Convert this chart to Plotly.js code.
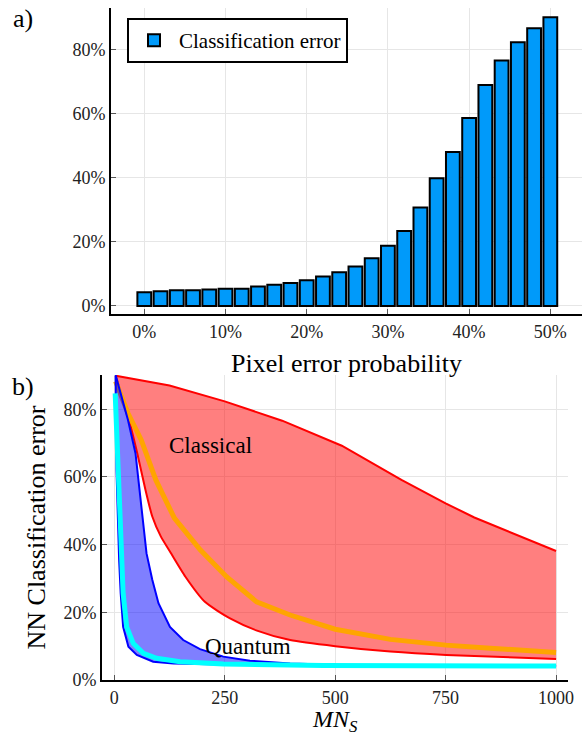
<!DOCTYPE html>
<html>
<head>
<meta charset="utf-8">
<script src="https://cdn.plot.ly/plotly-3.0.1.min.js"></script>
<style>html,body{margin:0;padding:0;background:#fff;}#plot{width:582px;height:734px;}</style>
</head>
<body>
<div id="plot"></div>
<script>
// ---- Panel a) data ----
const pixelErrorPct = [0, 2, 4, 6, 8, 10, 12, 14, 16, 18, 20, 22, 24, 26, 28, 30, 32, 34, 36, 38, 40, 42, 44, 46, 48, 50];
const classErrorPct = [4.3, 4.6, 4.9, 4.9, 5.1, 5.4, 5.4, 6.1, 6.6, 7.2, 8.0, 9.2, 10.5, 12.3, 14.9, 18.8, 23.4, 30.7, 39.8, 48.0, 58.6, 68.9, 76.5, 82.2, 86.6, 90.0];
const xTicksA = [0, 10, 20, 30, 40, 50];
const yTicksA = [0, 20, 40, 60, 80];

// ---- Panel b) data ----
const classicalMaxX = [3, 125, 250, 380, 515, 650, 750, 815, 1000];
const classicalMaxY = [89.9, 87.0, 82.3, 76.6, 69.2, 59.1, 52.2, 48.0, 38.1];
const classicalMinX = [3, 27, 52, 70, 86, 105, 128, 161, 205, 262, 323, 398, 500, 625, 751, 1000];
const classicalMinY = [89.9, 79.8, 67.0, 56.5, 48.3, 42.5, 37.5, 30.5, 23.1, 18.2, 14.6, 11.8, 10.0, 8.4, 7.4, 6.2];
const classicalMeanX = [3, 31, 61, 94, 136, 195, 254, 322, 398, 500, 625, 751, 851, 1000];
const classicalMeanY = [88.2, 78.8, 70.9, 59.1, 47.8, 38.4, 30.5, 23.1, 19.2, 15.0, 12.0, 10.3, 9.4, 8.1];
const quantumMaxX = [3, 31, 48, 61, 73, 86, 100, 126, 156, 194, 247, 307, 398, 500, 700, 1000];
const quantumMaxY = [90.1, 76.8, 67.0, 52.2, 37.4, 29.6, 22.7, 15.7, 11.8, 9.1, 6.9, 5.7, 4.9, 4.5, 4.3, 4.2];
const quantumMinX = [3, 5, 11, 14.5, 20, 32, 51, 88, 134, 247, 500, 1000];
const quantumMinY = [89.7, 62.0, 35.4, 25.6, 15.7, 9.8, 7.4, 5.4, 4.9, 4.6, 4.3, 4.1];
const quantumMeanX = [2, 8, 14, 20, 28, 43, 66, 96, 149, 247, 473, 1000];
const quantumMeanY = [84.7, 62.0, 42.4, 25.6, 15.7, 10.8, 7.9, 6.4, 5.4, 4.7, 4.3, 4.1];
const xTicksB = [0, 250, 500, 750, 1000];
const yTicksB = [0, 20, 40, 60, 80];

const FONT = "'Liberation Serif', 'Times New Roman', serif";
const W = 582, H = 734;
const px = v => v / W;
const py = v => (H - v) / H;

const traces = [
  {
    type: 'bar', x: pixelErrorPct, y: classErrorPct, width: 1.7,
    name: 'Classification error', xaxis: 'x', yaxis: 'y',
    marker: {color: '#009AFA', line: {color: '#000', width: 2}},
    showlegend: true, hoverinfo: 'x+y'
  },
  {
    type: 'scatter', mode: 'lines', x: classicalMaxX, y: classicalMaxY, xaxis: 'x2', yaxis: 'y2',
    line: {color: '#ff0000', width: 2}, showlegend: false
  },
  {
    type: 'scatter', mode: 'lines', x: classicalMinX, y: classicalMinY, xaxis: 'x2', yaxis: 'y2',
    line: {color: '#ff0000', width: 2, shape: 'spline', smoothing: 0.6}, fill: 'tonexty', fillcolor: 'rgba(255,0,0,0.5)', showlegend: false
  },
  {
    type: 'scatter', mode: 'lines', x: classicalMeanX, y: classicalMeanY, xaxis: 'x2', yaxis: 'y2',
    line: {color: '#ffa500', width: 5}, showlegend: false
  },
  {
    type: 'scatter', mode: 'lines', x: quantumMaxX, y: quantumMaxY, xaxis: 'x2', yaxis: 'y2',
    line: {color: '#0000ff', width: 2}, showlegend: false
  },
  {
    type: 'scatter', mode: 'lines', x: quantumMinX, y: quantumMinY, xaxis: 'x2', yaxis: 'y2',
    line: {color: '#0000ff', width: 2}, fill: 'tonexty', fillcolor: 'rgba(0,0,255,0.5)', showlegend: false
  },
  {
    type: 'scatter', mode: 'lines', x: quantumMeanX, y: quantumMeanY, xaxis: 'x2', yaxis: 'y2',
    line: {color: '#00ffff', width: 5}, showlegend: false
  }
];

const axisCommon = {
  showgrid: true, gridcolor: '#e6e6e6', gridwidth: 1,
  zeroline: false, showline: true, linecolor: '#000', linewidth: 2,
  ticks: 'inside', ticklen: 5, tickcolor: '#555', tickwidth: 1,
  tickfont: {family: FONT, size: 18, color: '#222'},
  automargin: false, fixedrange: true
};

const layout = {
  width: W, height: H,
  margin: {l: 0, r: 0, t: 0, b: 0, pad: 0},
  paper_bgcolor: '#fff', plot_bgcolor: '#fff',
  font: {family: FONT, color: '#000'},
  showlegend: true,
  legend: {
    x: px(127), y: py(18), xanchor: 'left', yanchor: 'top',
    bgcolor: '#fff', bordercolor: '#000', borderwidth: 2, itemwidth: 40,
    font: {family: FONT, size: 21, color: '#000'}
  },
  xaxis: Object.assign({}, axisCommon, {
    domain: [px(111), px(582)], anchor: 'y', range: [-4.1, 53.9],
    tickmode: 'array', tickvals: xTicksA, ticktext: xTicksA.map(v => v + '%'),
    title: {text: 'Pixel error probability', font: {family: FONT, size: 26, color: '#000'}, standoff: 13}
  }),
  yaxis: Object.assign({}, axisCommon, {
    domain: [py(314), py(8)], anchor: 'x', range: [-2.5, 92.9],
    tickmode: 'array', tickvals: yTicksA, ticktext: yTicksA.map(v => v + '%')
  }),
  xaxis2: Object.assign({}, axisCommon, {
    domain: [px(102), px(568)], anchor: 'y2', range: [-27.8, 1027],
    tickmode: 'array', tickvals: xTicksB, ticktext: xTicksB.map(v => String(v))
  }),
  yaxis2: Object.assign({}, axisCommon, {
    domain: [py(680), py(375)], anchor: 'x2', range: [0, 90.1],
    tickmode: 'array', tickvals: yTicksB, ticktext: yTicksB.map(v => v + '%'),
    title: {text: 'NN Classification error', font: {family: FONT, size: 26, color: '#000'}, standoff: 10}
  }),
  annotations: [
    {text: 'a)', xref: 'paper', yref: 'paper', x: px(23), y: py(19), xanchor: 'center', yanchor: 'middle',
     showarrow: false, font: {family: FONT, size: 26, color: '#000'}},
    {text: 'b)', xref: 'paper', yref: 'paper', x: px(23), y: py(387), xanchor: 'center', yanchor: 'middle',
     showarrow: false, font: {family: FONT, size: 26, color: '#000'}},
    {text: '<i>MN</i><sub><i>S</i></sub>', xref: 'paper', yref: 'paper', x: px(335), y: py(704),
     xanchor: 'center', yanchor: 'top', showarrow: false, font: {family: FONT, size: 24, color: '#000'}},
    {text: 'Classical', xref: 'x2', yref: 'y2', x: 217, y: 69.4, xanchor: 'center', yanchor: 'middle',
     showarrow: false, font: {family: FONT, size: 23, color: '#000'}},
    {text: 'Quantum', xref: 'x2', yref: 'y2', x: 302, y: 9.8, xanchor: 'center', yanchor: 'middle',
     showarrow: false, font: {family: FONT, size: 23, color: '#000'}}
  ]
};

Plotly.newPlot('plot', traces, layout, {displayModeBar: false, staticPlot: true});
</script>
</body>
</html>
